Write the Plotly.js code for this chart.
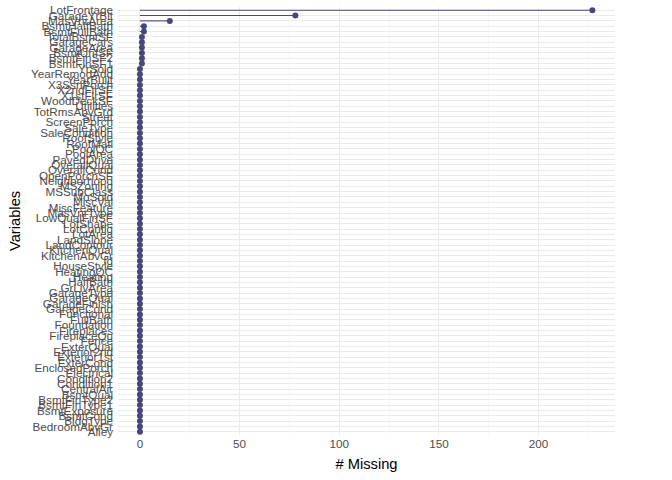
<!DOCTYPE html>
<html>
<head>
<meta charset="utf-8">
<script src="https://cdn.plot.ly/plotly-3.0.1.min.js"></script>
<style>html,body{margin:0;padding:0;background:#fff;}#chart{width:672px;height:480px;}</style>
</head>
<body>
<div id="chart"></div>
<script>
// Variables listed top to bottom (as drawn), with their missing counts
const variables = [
  "LotFrontage","GarageYrBlt","MasVnrArea","BsmtHalfBath","BsmtFullBath","TotalBsmtSF",
  "GarageCars","GarageArea","BsmtUnfSF","BsmtFinSF2","BsmtFinSF1","YrSold","YearRemodAdd",
  "YearBuilt","X3SsnPorch","X2ndFlrSF","X1stFlrSF","WoodDeckSF","Utilities","TotRmsAbvGrd",
  "Street","ScreenPorch","SaleType","SaleCondition","RoofStyle","RoofMatl","PoolQC","PoolArea",
  "PavedDrive","OverallQual","OverallCond","OpenPorchSF","Neighborhood","MSZoning","MSSubClass",
  "MoSold","MiscVal","MiscFeature","MasVnrType","LowQualFinSF","LotShape","LotConfig","LotArea",
  "LandSlope","LandContour","KitchenQual","KitchenAbvGr","Id","HouseStyle","HeatingQC","Heating",
  "HalfBath","GrLivArea","GarageType","GarageQual","GarageFinish","GarageCond","Functional",
  "FullBath","Foundation","Fireplaces","FireplaceQu","Fence","ExterQual","Exterior2nd",
  "Exterior1st","ExterCond","EnclosedPorch","Electrical","Condition2","Condition1","CentralAir",
  "BsmtQual","BsmtFinType2","BsmtFinType1","BsmtExposure","BsmtCond","BldgType","BedroomAbvGr","Alley"
];
const nMissing = [
  227,78,15,2,2,1,
  1,1,1,1,1,0,0,
  0,0,0,0,0,0,0,
  0,0,0,0,0,0,0,0,
  0,0,0,0,0,0,0,
  0,0,0,0,0,0,0,0,
  0,0,0,0,0,0,0,0,
  0,0,0,0,0,0,0,
  0,0,0,0,0,0,0,
  0,0,0,0,0,0,0,
  0,0,0,0,0,0,0,0
];
const xTicks = [0, 50, 100, 150, 200];

const col = "#484878";
const segX = [], segY = [];
variables.forEach((v, i) => { segX.push(0, nMissing[i], null); segY.push(v, v, null); });

const order = variables.slice().reverse(); // bottom to top

const traces = [
  {type: "scatter", mode: "lines", x: segX, y: segY, line: {color: col, width: 1.1},
   hoverinfo: "skip", showlegend: false},
  {type: "scatter", mode: "markers", x: nMissing, y: variables,
   marker: {color: col, size: 6}, showlegend: false}
];

const layout = {
  width: 672, height: 480,
  paper_bgcolor: "#fff", plot_bgcolor: "#fff",
  margin: {l: 118, r: 57, t: 7, b: 45},
  font: {family: "Liberation Sans, Arial, sans-serif", color: "#4D4D4D"},
  showlegend: false,
  xaxis: {
    range: [-11.0, 238.35], tickmode: "array", tickvals: xTicks,
    ticktext: xTicks.map(String),
    tickfont: {size: 11.7, color: "#4D4D4D"},
    showgrid: true, gridcolor: "#EBEBEB", gridwidth: 1,
    minor: {tickvals: [25, 75, 125, 175, 225], showgrid: true, gridcolor: "#F3F3F3", gridwidth: 0.6},
    zeroline: false, showline: false, ticks: "",
    title: {text: "# Missing", font: {size: 14.7, color: "#000"}, standoff: 10}
  },
  yaxis: {
    type: "category", categoryorder: "array", categoryarray: order,
    range: [-0.6, order.length - 0.4],
    tickmode: "array", tickvals: order, ticktext: order,
    tickfont: {size: 11.7, color: "#4D4D4D"},
    ticklabelstandoff: 4,
    showgrid: true, gridcolor: "#EBEBEB", gridwidth: 1,
    zeroline: false, showline: false, ticks: "",
    automargin: false
  },
  annotations: [{
    text: "Variables", xref: "paper", yref: "paper", x: 0, y: 0.5,
    xanchor: "center", yanchor: "middle", xshift: -103, textangle: -90,
    showarrow: false, font: {size: 14.7, color: "#000"}
  }]
};

Plotly.newPlot("chart", traces, layout, {displayModeBar: false, staticPlot: true});
</script>
</body>
</html>
